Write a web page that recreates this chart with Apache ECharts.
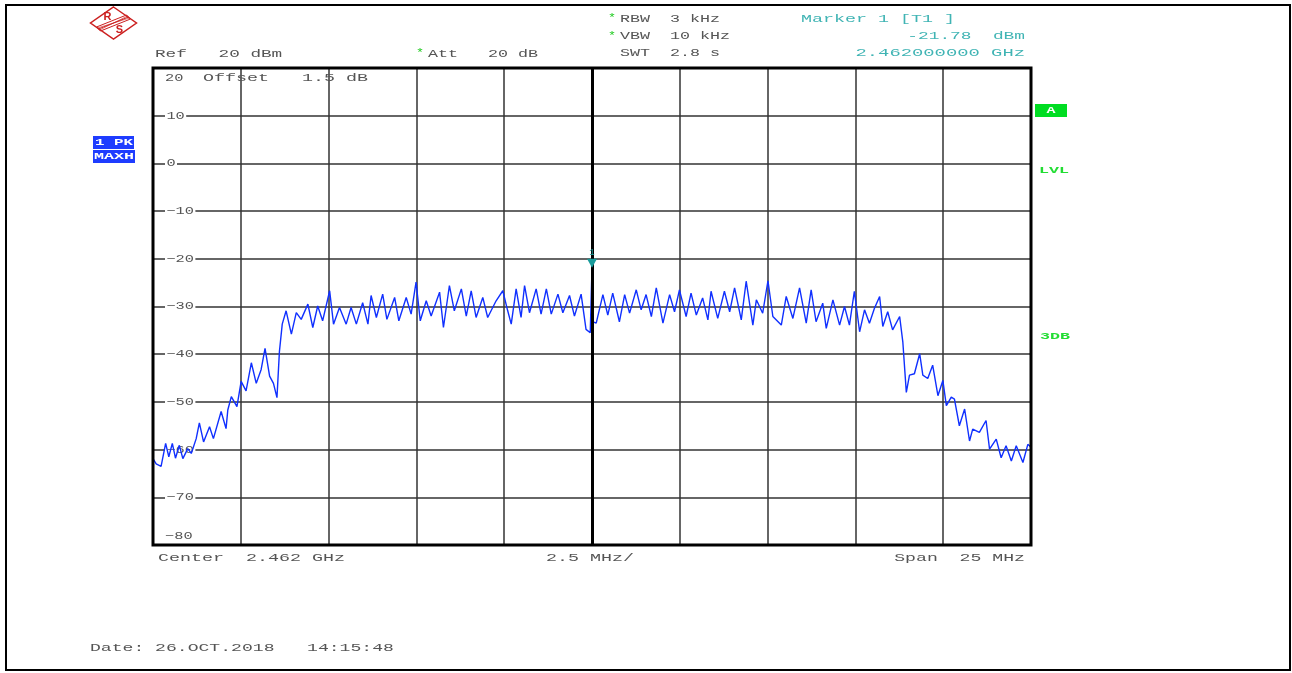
<!DOCTYPE html>
<html><head><meta charset="utf-8">
<script src="https://cdn.jsdelivr.net/npm/echarts@6/dist/echarts.min.js"></script>
<style>html,body{margin:0;padding:0;background:#fff}#c{width:1292px;height:673px}</style>
</head><body><div id="c"></div>
<script>
// Frequency offset from centre (MHz), centre 2.462 GHz, span 25 MHz
const freqMHz = [-12.50,-12.41,-12.27,-12.14,-12.05,-11.95,-11.86,-11.75,-11.65,-11.51,-11.41,-11.27,-11.18,-11.06,-10.89,-10.78,-10.56,-10.42,-10.37,-10.27,-10.11,-9.99,-9.85,-9.70,-9.56,-9.42,-9.31,-9.18,-9.07,-8.97,-8.90,-8.82,-8.71,-8.56,-8.42,-8.28,-8.09,-7.95,-7.81,-7.67,-7.47,-7.36,-7.19,-7.00,-6.86,-6.71,-6.53,-6.38,-6.29,-6.14,-5.96,-5.84,-5.62,-5.50,-5.29,-5.15,-5.01,-4.89,-4.72,-4.58,-4.34,-4.23,-4.06,-3.92,-3.72,-3.58,-3.44,-3.30,-3.11,-2.97,-2.73,-2.54,-2.40,-2.30,-2.16,-2.02,-1.92,-1.78,-1.59,-1.45,-1.30,-1.16,-0.97,-0.83,-0.64,-0.50,-0.31,-0.17,-0.05,0.00,0.03,0.12,0.31,0.45,0.59,0.78,0.93,1.07,1.26,1.40,1.54,1.69,1.83,2.02,2.21,2.35,2.49,2.68,2.82,2.97,3.15,3.30,3.39,3.58,3.77,3.92,4.06,4.25,4.39,4.58,4.68,4.86,5.01,5.15,5.39,5.53,5.72,5.91,6.10,6.24,6.38,6.57,6.67,6.86,7.05,7.19,7.33,7.47,7.62,7.76,7.90,8.04,8.19,8.28,8.42,8.56,8.76,8.85,8.95,9.04,9.18,9.33,9.42,9.56,9.70,9.85,9.99,10.09,10.23,10.32,10.46,10.61,10.75,10.84,11.03,11.22,11.32,11.51,11.65,11.79,11.94,12.08,12.27,12.41,12.50];
// Trace level (dBm), max-hold peak trace
const levelDbm = [-61.9,-63.0,-63.5,-58.7,-61.5,-58.7,-61.8,-59.1,-61.9,-59.8,-60.8,-57.7,-54.4,-58.4,-55.2,-57.7,-52.0,-55.6,-51.7,-48.9,-51.0,-45.7,-47.7,-41.8,-46.1,-43.2,-38.8,-44.6,-46.1,-49.1,-39.4,-33.7,-30.9,-35.8,-31.3,-32.7,-29.5,-34.4,-29.9,-33.0,-26.7,-33.7,-30.2,-33.7,-30.2,-33.7,-29.2,-33.7,-27.7,-32.3,-27.4,-32.7,-28.1,-33.0,-28.1,-31.6,-24.9,-33.0,-28.8,-32.0,-27.0,-34.4,-25.6,-30.9,-26.3,-32.0,-26.7,-32.3,-28.1,-32.3,-28.8,-26.7,-30.9,-33.7,-26.3,-32.3,-25.6,-31.3,-26.3,-31.6,-26.3,-31.6,-27.4,-31.3,-27.7,-32.0,-27.4,-34.8,-35.5,-21.78,-33.2,-33.5,-27.5,-31.8,-27.2,-33.2,-27.5,-31.4,-26.5,-30.7,-27.5,-32.1,-26.1,-33.5,-27.5,-31.1,-26.5,-32.1,-27.2,-31.8,-28.2,-32.8,-26.8,-32.5,-26.8,-31.1,-26.1,-32.8,-24.7,-33.9,-28.6,-31.4,-24.6,-32.1,-33.9,-27.9,-32.5,-26.1,-33.5,-26.5,-33.2,-29.3,-34.6,-28.6,-33.9,-30.0,-33.9,-26.8,-35.3,-30.7,-33.5,-30.4,-27.9,-34.2,-31.1,-34.9,-32.1,-37.4,-48.0,-44.4,-44.1,-39.9,-44.4,-45.1,-42.3,-48.7,-45.5,-50.8,-49.0,-49.4,-55.0,-51.5,-58.2,-55.7,-56.4,-53.9,-59.9,-57.8,-61.7,-59.2,-62.4,-59.2,-62.7,-58.9,-59.5];
const yTicks = [20,10,0,-10,-20,-30,-40,-50,-60,-70,-80];
const markerFreq = 0;
const markerLevel = -21.78;

const chart = echarts.init(document.getElementById('c'), null, {renderer:'canvas'});
const traceData = freqMHz.map((f,i)=>[f, levelDbm[i]]);
const GRAY = '#555';
const FONT = '"Liberation Mono", "DejaVu Sans Mono", monospace';

chart.setOption({
  animation:false,
  backgroundColor:'#fff',
  grid:{left:153, top:68, right:261, bottom:128, show:true, borderColor:'#000', borderWidth:3, backgroundColor:'transparent', z:5},
  xAxis:{type:'value', min:-12.5, max:12.5, interval:2.5,
    axisLine:{show:false}, axisTick:{show:false}, axisLabel:{show:false},
    splitLine:{show:true, lineStyle:{color:'#333', width:1.5}}},
  yAxis:{type:'value', min:-80, max:20, interval:10,
    axisLine:{show:false}, axisTick:{show:false}, axisLabel:{show:false},
    splitLine:{show:true, lineStyle:{color:'#333', width:1.5}}},
  series:[
    {type:'line', data:[], z:1, silent:true,
     markLine:{silent:true, symbol:['none','none'], label:{show:false},
       lineStyle:{color:'#000', width:3, type:'solid'}, data:[{xAxis:markerFreq}]}},
    {type:'line', data:traceData, z:3, symbol:'none', silent:true,
     lineStyle:{color:'#1030ff', width:1.4},
     markPoint:{silent:true, symbol:'triangle', symbolRotate:180, symbolSize:[10,9], symbolOffset:[0,-4],
       itemStyle:{color:'#1a9c9c'},
       label:{show:true, position:'top', distance:2, formatter:'1', color:'#1a9c9c', fontSize:9, fontFamily:FONT},
       data:[{coord:[markerFreq, markerLevel]}]}}
  ]
});

function T(text, x, y, color, pitch, align, fs, weight, family, extra, z){
  fs = fs || 11;
  const sx = pitch/(0.6*fs);
  const st = Object.assign({text:text, fill:color, font:(weight||'normal')+' '+fs+'px '+(family||FONT),
    textAlign:align||'left', textVerticalAlign:'middle', align:align||'left', verticalAlign:'middle'}, extra||{});
  return {type:'text', x:x, y:y, scaleX:sx, silent:true, z:(z==null?100:z), style:st};
}

const g = [];
// outer frame
g.push({type:'rect', shape:{x:6, y:5, width:1284, height:665}, style:{fill:'none', stroke:'#000', lineWidth:2}, silent:true, z:90});
// header
g.push(T('Ref   20 dBm', 155, 54, GRAY, 10.6));
g.push(T('*', 416, 53, '#22cc22', 8));
g.push(T('Att   20 dB', 428, 54, GRAY, 10));
g.push(T('*', 608, 18, '#22cc22', 8));
g.push(T('RBW  3 kHz', 620, 19, GRAY, 10));
g.push(T('*', 608, 36, '#22cc22', 8));
g.push(T('VBW  10 kHz', 620, 36, GRAY, 10));
g.push(T('SWT  2.8 s', 620, 53, GRAY, 10));
g.push(T('Marker 1 [T1 ]', 801, 19, '#40b4b4', 11));
g.push(T('-21.78  dBm', 1025, 36, '#40b4b4', 10.7, 'right'));
g.push(T('2.462000000 GHz', 1025, 53, '#40b4b4', 11.3, 'right'));
g.push(T('Offset   1.5 dB', 203, 78, GRAY, 11));
// footer
g.push(T('Center  2.462 GHz', 158, 558, GRAY, 11));
g.push(T('2.5 MHz/', 546, 558, GRAY, 11));
g.push(T('Span  25 MHz', 1025, 558, GRAY, 10.9, 'right'));
g.push(T('Date: 26.OCT.2018   14:15:48', 90, 648, GRAY, 10.85));
// y tick labels positioned through the axis scale (below the trace)
yTicks.forEach(v=>{
  const py = chart.convertToPixel({yAxisIndex:0}, v);
  let y = py, bg = {backgroundColor:'#fff', padding:[0,1]};
  if (v === yTicks[0]) { y = py + 10; bg = {}; }
  if (v === yTicks[yTicks.length-1]) { y = py - 9; bg = {}; }
  const label = v < 0 ? '\u2212' + Math.abs(v) : String(v);
  g.push(T(label, 165, y, GRAY, 9.2, 'left', 11, 'normal', FONT, bg, 2));
});
// left trace boxes
g.push({type:'rect', shape:{x:93, y:136, width:41, height:13}, style:{fill:'#1e3cff'}, silent:true, z:95});
g.push({type:'rect', shape:{x:93, y:150, width:42, height:13}, style:{fill:'#1e3cff'}, silent:true, z:95});
g.push(T('1 PK', 95, 142.5, '#fff', 9.5, 'left', 9, 'bold', FONT));
g.push(T('MAXH', 94, 157, '#fff', 10, 'left', 9, 'bold', FONT));
// right side indicators
g.push({type:'rect', shape:{x:1035, y:104, width:32, height:13}, style:{fill:'#00dd22'}, silent:true, z:95});
g.push(T('A', 1051, 111, '#fff', 9, 'center', 9, 'bold', FONT));
g.push(T('LVL', 1039, 171, '#22dd33', 10, 'left', 9, 'bold', FONT));
g.push(T('3DB', 1040, 337, '#22dd33', 10, 'left', 9, 'bold', FONT));
// R&S logo
const RED = '#cc2020';
g.push({type:'group', x:113.5, y:23, silent:true, z:95, children:[
  {type:'polygon', shape:{points:[[0,-16],[23,0],[0,16],[-23,0]]}, style:{fill:'none', stroke:RED, lineWidth:1.5}},
  {type:'polygon', shape:{points:[[-17,4],[-13,8],[17,-4],[13,-8]]}, style:{fill:'none', stroke:RED, lineWidth:1}},
  {type:'line', shape:{x1:-15, y1:6, x2:15, y2:-6}, style:{stroke:RED, lineWidth:1}},
  {type:'line', shape:{x1:-16, y1:5, x2:16, y2:-5}, style:{stroke:RED, lineWidth:0.6}},
  {type:'line', shape:{x1:-14, y1:7, x2:14, y2:-7}, style:{stroke:RED, lineWidth:0.6}},
  {type:'text', x:-6, y:-6, style:{text:'R', fill:RED, font:'bold 11px "Liberation Sans", sans-serif', align:'center', verticalAlign:'middle', textAlign:'center', textVerticalAlign:'middle'}},
  {type:'text', x:6, y:7, style:{text:'S', fill:RED, font:'bold 11px "Liberation Sans", sans-serif', align:'center', verticalAlign:'middle', textAlign:'center', textVerticalAlign:'middle'}}
]});
chart.setOption({graphic:{elements:g}});
</script>
</body></html>
